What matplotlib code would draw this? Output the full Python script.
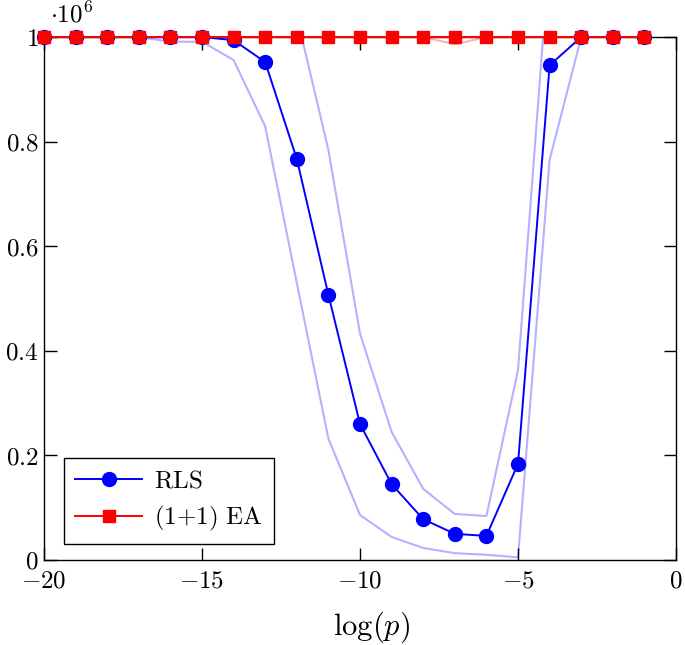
import numpy as np
import matplotlib
matplotlib.use("Agg")
import matplotlib.pyplot as plt
from matplotlib.ticker import FuncFormatter, MultipleLocator

plt.rcParams['mathtext.fontset'] = 'cm'
plt.rcParams['font.family'] = ['DejaVu Serif']

# ==============================
# Data
# ==============================
log_p = np.arange(-20, 0)  # -20 ... -1

rls_mean = np.array([1.0, 1.0, 1.0, 1.0, 1.0, 1.0, 0.994, 0.952, 0.767, 0.507,
                     0.260, 0.145, 0.078, 0.050, 0.046, 0.184, 0.946, 1.0, 1.0, 1.0]) * 1e6
rls_upper = np.array([1.0, 1.0, 1.0, 1.0, 1.0, 1.0, 1.0, 1.05, 1.04, 0.784,
                      0.433, 0.245, 0.136, 0.088, 0.084, 0.363, 1.165, 1.0, 1.0, 1.0]) * 1e6
rls_lower = np.array([1.0, 1.0, 1.0, 1.0, 0.991, 0.991, 0.956, 0.829, 0.53, 0.232,
                      0.086, 0.044, 0.023, 0.013, 0.010, 0.005, 0.765, 1.0, 1.0, 1.0]) * 1e6

ea_mean = np.array([1.0] * 20) * 1e6
ea_upper = np.array([1.0] * 20) * 1e6
ea_lower = np.array([1.0, 1.0, 1.0, 1.0, 1.0, 1.0, 1.0, 1.0, 1.0, 1.0,
                     1.0, 1.0, 1.0, 0.986, 1.0, 1.0, 1.0, 1.0, 1.0, 1.0]) * 1e6

# ==============================
# Plot
# ==============================
fig = plt.figure(figsize=(6.85, 6.45), dpi=100)
ax = fig.add_axes([0.0642, 0.1318, 0.9227, 0.8108])

# bands
ax.plot(log_p, rls_upper, color='blue', alpha=0.3, lw=1.5)
ax.plot(log_p, rls_lower, color='blue', alpha=0.3, lw=1.5)
ax.plot(log_p, ea_upper, color='red', alpha=0.3, lw=1.5)
ax.plot(log_p, ea_lower, color='red', alpha=0.3, lw=1.5)

# means
ax.plot(log_p, rls_mean, color='blue', lw=1.4, marker='o', ms=10,
        label=r'$\mathrm{RLS}$', clip_on=False, zorder=3)
ax.plot(log_p, ea_mean, color='red', lw=1.4, marker='s', ms=9,
        label=r'$\mathrm{(1{+}1)\ EA}$', clip_on=False, zorder=4)

ax.set_xlim(-20, 0)
ax.set_ylim(0, 1e6)
ax.xaxis.set_major_locator(MultipleLocator(5))
ax.yaxis.set_major_locator(MultipleLocator(0.2e6))
ax.xaxis.set_major_formatter(FuncFormatter(lambda v, pos: r'$%g$' % v))
ax.yaxis.set_major_formatter(FuncFormatter(lambda v, pos: r'$%g$' % round(v / 1e6, 1)))
ax.tick_params(direction='in', top=True, right=True, length=9, width=1.0,
               labelsize=18, pad=4)
ax.tick_params(axis='x', pad=7)
for s in ax.spines.values():
    s.set_linewidth(1.0)

ax.text(0.01, 1.018, r'$\cdot 10^6$', transform=ax.transAxes, fontsize=18,
        ha='left', va='bottom')
ax.set_xlabel(r'$\log(p)$', fontsize=22, va='center')
ax.xaxis.set_label_coords(0.518, -0.128)

leg = ax.legend(loc='lower left', bbox_to_anchor=(0.032, 0.03), borderaxespad=0,
                fontsize=18, frameon=True, fancybox=False,
                edgecolor='black', framealpha=1, handlelength=2.65,
                borderpad=0.45, labelspacing=0.45, handletextpad=0.5)
leg.get_frame().set_linewidth(1.0)

plt.savefig('out.png', dpi=100)
